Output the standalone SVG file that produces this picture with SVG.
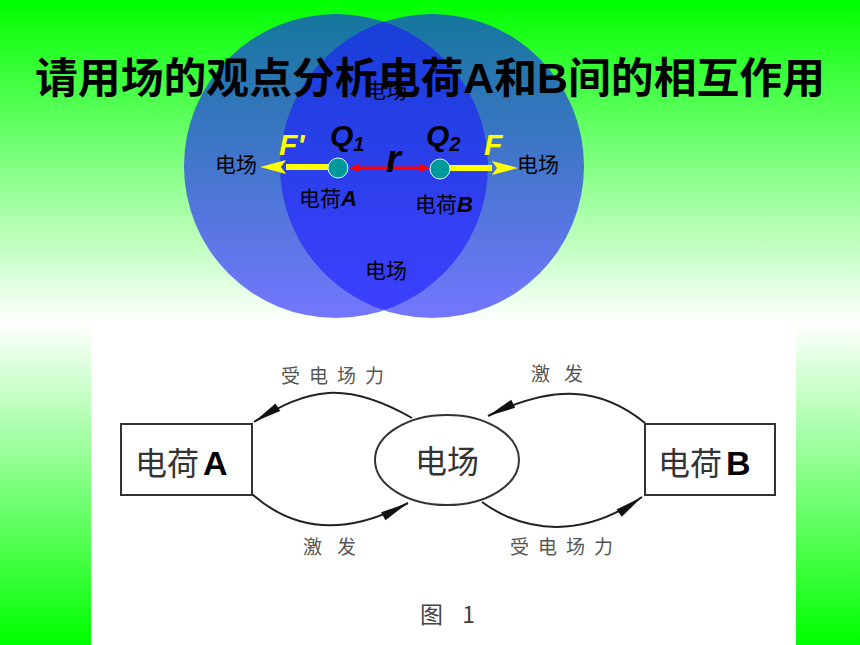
<svg xmlns="http://www.w3.org/2000/svg" width="860" height="645" viewBox="0 0 860 645">
<defs>
<linearGradient id="bg" x1="0" y1="0" x2="0" y2="1">
<stop offset="0" stop-color="#00ff00"/>
<stop offset="0.5" stop-color="#ffffff"/>
<stop offset="1" stop-color="#00ff00"/>
</linearGradient>
<marker id="yhead" markerUnits="userSpaceOnUse" markerWidth="30" markerHeight="20" refX="0" refY="10" orient="auto" overflow="visible">
<path d="M0,3 L26,10 L0,17 L5,10 Z" fill="#ffff00"/>
</marker>
<marker id="rhead" markerUnits="userSpaceOnUse" markerWidth="14" markerHeight="10" refX="0" refY="5" orient="auto-start-reverse" overflow="visible">
<path d="M0,0.5 L11,5 L0,9.5 Z" fill="#ff0000"/>
</marker>
<marker id="bhead" markerUnits="userSpaceOnUse" markerWidth="30" markerHeight="12" refX="28" refY="6" orient="auto" overflow="visible">
<path d="M0,1.5 L28,6 L0,10.5 Z" fill="#111"/>
</marker>
</defs>
<style>
.cjk{font-family:"Noto Sans CJK SC","Liberation Sans",sans-serif;}
.lat{font-family:"Liberation Sans","Noto Sans CJK SC",sans-serif;}
.lbl{font-family:"Noto Sans CJK SC",sans-serif;font-size:21px;fill:#000;}
.sym{font-family:"Liberation Sans",sans-serif;font-weight:bold;font-style:italic;}
.circ{fill:#1a1aff;fill-opacity:0.6;}
.charge{fill:#009999;stroke:#d8ffff;stroke-width:1;}
.node{fill:#fff;stroke:#333;stroke-width:2;}
.ntext{font-family:"Noto Sans CJK SC",sans-serif;font-size:32px;fill:#333;}
.arc{fill:none;stroke:#222;stroke-width:2;marker-end:url(#bhead);}
.alab{font-family:"Noto Sans CJK SC",sans-serif;font-size:19px;fill:#555;}
</style>
<rect x="0" y="0" width="860" height="645" fill="url(#bg)"/>
<g id="fields">
<circle class="circ" cx="336" cy="166" r="152"/>
<circle class="circ" cx="432" cy="166" r="152"/>
</g>
<text id="title" x="35" y="93" class="lat" font-size="42" font-weight="bold" fill="#000" textLength="790" lengthAdjust="spacingAndGlyphs">请用场的观点分析电荷A和B间的相互作用</text>
<g id="field-labels">
<text class="lbl" x="365" y="98">电场</text>
<text class="lbl" x="215" y="172">电场</text>
<text class="lbl" x="517" y="172">电场</text>
<text class="lbl" x="365" y="278">电场</text>
</g>
<g id="forces">
<line x1="336" y1="167" x2="286" y2="167" stroke="#ffff00" stroke-width="6" marker-end="url(#yhead)"/>
<line x1="442" y1="168" x2="492" y2="168" stroke="#ffff00" stroke-width="6" marker-end="url(#yhead)"/>
<line x1="360" y1="168" x2="419" y2="168" stroke="#ff0000" stroke-width="3" marker-start="url(#rhead)" marker-end="url(#rhead)"/>
</g>
<g id="chargeA">
<circle class="charge" cx="338" cy="168" r="10"/>
<text class="sym" x="330" y="146" font-size="30" fill="#000">Q<tspan font-size="20" dy="5">1</tspan></text>
<text class="sym" x="279" y="155" font-size="30" fill="#ffff00">F'</text>
<text class="lbl" x="299" y="206">电荷<tspan class="sym" font-size="22">A</tspan></text>
</g>
<g id="chargeB">
<circle class="charge" cx="440" cy="169" r="10"/>
<text class="sym" x="426" y="146" font-size="30" fill="#000">Q<tspan font-size="20" dy="5">2</tspan></text>
<text class="sym" x="484" y="155" font-size="30" fill="#ffff00">F</text>
<text class="lbl" x="415" y="212">电荷<tspan class="sym" font-size="22">B</tspan></text>
</g>
<text id="r-label" class="sym" x="386" y="172" font-size="38" fill="#000">r</text>
<rect id="panel" x="91" y="326" width="705" height="319" fill="#ffffff"/>
<g id="connectors">
<path class="arc" d="M412,418 C345,380 309,388 254,422"/>
<path class="arc" d="M252,494 C297,534 350,534 408,503"/>
<path class="arc" d="M645,423 C601,387 554,384 488,416"/>
<path class="arc" d="M482,502 C526,534 584,538 642,497"/>
</g>
<g id="connector-labels">
<text class="alab" x="281" y="383" textLength="103" lengthAdjust="spacing">受电场力</text>
<text class="alab" x="531" y="381" textLength="52" lengthAdjust="spacing">激发</text>
<text class="alab" x="303" y="554" textLength="53" lengthAdjust="spacing">激发</text>
<text class="alab" x="510" y="554" textLength="103" lengthAdjust="spacing">受电场力</text>
</g>
<g id="nodeA">
<rect class="node" x="121" y="424" width="131" height="71"/>
<text class="ntext" x="135" y="475">电荷<tspan class="lat" font-weight="bold" fill="#000" font-size="34" dx="4">A</tspan></text>
</g>
<g id="nodeField">
<ellipse class="node" cx="447" cy="460" rx="72" ry="45"/>
<text class="ntext" x="447" y="473" text-anchor="middle">电场</text>
</g>
<g id="nodeB">
<rect class="node" x="645" y="424" width="130" height="71"/>
<text class="ntext" x="658" y="475">电荷<tspan class="lat" font-weight="bold" fill="#000" font-size="34" dx="4">B</tspan></text>
</g>
<text id="caption" class="cjk" x="420" y="623" font-size="23" fill="#444" textLength="55" lengthAdjust="spacing">图 1</text>
</svg>
